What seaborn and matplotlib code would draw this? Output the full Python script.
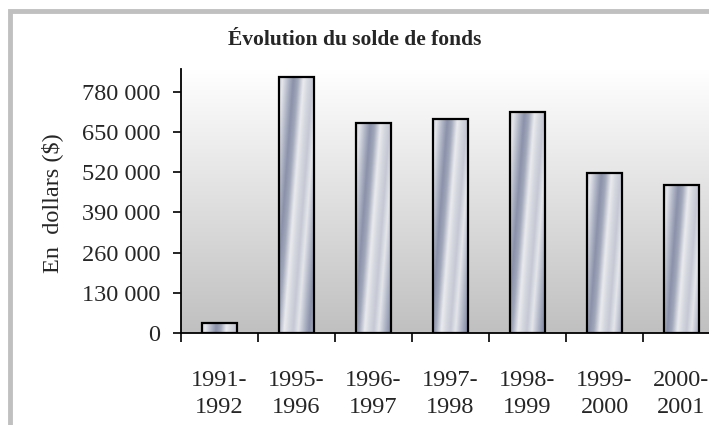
import numpy as np
import pandas as pd
import matplotlib
matplotlib.use("Agg")
import matplotlib.pyplot as plt
from matplotlib.colors import LinearSegmentedColormap
from matplotlib.patches import Rectangle
import seaborn as sns

# ---- data ----
periods = ["1991-\n1992", "1995-\n1996", "1996-\n1997", "1997-\n1998",
           "1998-\n1999", "1999-\n2000", "2000-\n2001"]
solde = [32000, 827000, 679000, 692000, 714000, 517000, 478000]
yticks = [0, 130000, 260000, 390000, 520000, 650000, 780000]
ytick_labels = ["0", "130 000", "260 000", "390 000", "520 000", "650 000", "780 000"]
title = "Évolution du solde de fonds"
ylabel = "En  dollars ($)"

sns.set_style("white")
plt.rcParams["font.family"] = ["Liberation Serif", "DejaVu Serif"]

W, H = 709, 425
fig = plt.figure(figsize=(W / 100, H / 100), dpi=100)
fig.patch.set_facecolor("white")

ax_left, ax_right, ax_bottom, ax_top = 181, 720, 333, 69
ax = fig.add_axes([ax_left / W, 1 - ax_bottom / H,
                   (ax_right - ax_left) / W, (ax_bottom - ax_top) / H])

df = pd.DataFrame({"periode": periods, "solde": solde})
sns.barplot(data=df, x="periode", y="solde", ax=ax, width=0.45,
            color="#b8bcc8", edgecolor="black", linewidth=1.6,
            saturation=1)

n = len(periods)
xlim = (-0.5, n - 0.5)
ylim = (0, 853000)

# background gradient (white at top -> grey at bottom)
grad = np.linspace(1.0, 0.0, 256)[:, None]
bg_cmap = LinearSegmentedColormap.from_list("bg", ["#c0c0c0", "#ffffff"])
ax.imshow(grad, extent=[0, 1, 0, 1], transform=ax.transAxes, aspect="auto",
          cmap=bg_cmap, vmin=0, vmax=1, origin="upper", zorder=0,
          interpolation="bilinear")
ax.set_facecolor("none")

# metallic striped texture inside bars
tex_cmap = LinearSegmentedColormap.from_list(
    "tex",
    [(0.0, "#c6c9d4"), (0.14, "#e4e6eb"), (0.30, "#b4b9c8"),
     (0.45, "#8a91a9"), (0.58, "#a2a8ba"), (0.74, "#eaebef"),
     (0.88, "#d3d6de"), (1.0, "#c6c9d4")])
ax.set_xlim(*xlim)
ax.set_ylim(*ylim)
fig.canvas.draw()
for p in list(ax.patches):
    x0, y0 = p.get_x(), p.get_y()
    w, h = p.get_width(), p.get_height()
    bb = p.get_window_extent()
    wp, hp = max(int(bb.width), 2), max(int(bb.height), 2)
    rows = np.arange(hp)[:, None]
    cols = np.arange(wp)[None, :]
    t = (cols / wp + rows * 0.0022 + 0.05) % 1.0
    im = ax.imshow(t, extent=[x0, x0 + w, y0, y0 + h], origin="upper",
                   aspect="auto", cmap=tex_cmap, vmin=0, vmax=1,
                   interpolation="bilinear", zorder=1.5)
    im.set_clip_path(p)
    p.set_facecolor("none")
    p.set_zorder(2)

ax.set_xlim(*xlim)
ax.set_ylim(*ylim)

# spines
for s in ["top", "right"]:
    ax.spines[s].set_visible(False)
for s in ["left", "bottom"]:
    ax.spines[s].set_color("black")
    ax.spines[s].set_linewidth(1.3)
    ax.spines[s].set_zorder(3)

# y ticks
ax.set_yticks(yticks)
ax.set_yticklabels(ytick_labels)
ax.tick_params(axis="y", which="major", direction="out", length=6, width=1.2,
               color="black", pad=9, labelsize=17.5, left=True)

# x ticks: marks at boundaries, labels at centres
ax.set_xticks(np.arange(n + 1) - 0.5)
ax.set_xticklabels([])
ax.set_xticks(np.arange(n), minor=True)
ax.set_xticklabels(periods, minor=True, fontsize=17.5, linespacing=1.35)
ax.tick_params(axis="x", which="major", direction="out", length=6.5, width=1.2,
               color="black", bottom=True)
ax.tick_params(axis="x", which="minor", length=0, pad=27)
ax.set_xlabel("")
ax.set_ylabel("")

fig.text(355 / W, 1 - 40 / H, title, ha="center", va="center",
         fontsize=15.5, fontweight="bold")
fig.text(52 / W, 1 - 203 / H, ylabel, rotation=90, ha="center", va="center",
         fontsize=17.5)

# outer grey frame (left & top visible)
fig.add_artist(Rectangle((10 / W, -0.2), 2.0, 1.2 - 11 / H,
                         transform=fig.transFigure, fill=False,
                         edgecolor="#c0c0c0", linewidth=3.5))

fig.savefig("out.png", dpi=100)
